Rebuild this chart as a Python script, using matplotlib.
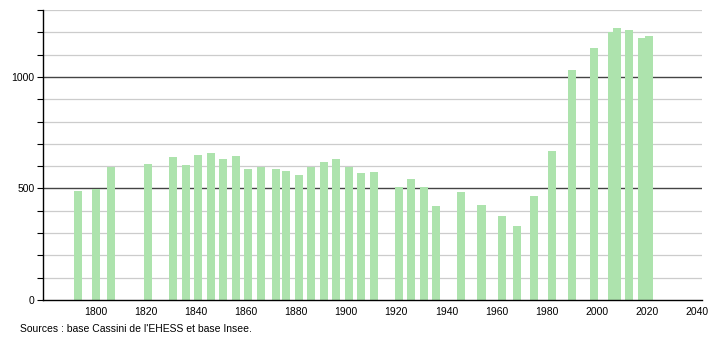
import matplotlib.pyplot as plt

years = [1793, 1800, 1806, 1821, 1831, 1836, 1841, 1846, 1851, 1856, 1861, 1866,
         1872, 1876, 1881, 1886, 1891, 1896, 1901, 1906, 1911, 1921, 1926, 1931,
         1936, 1946, 1954, 1962, 1968, 1975, 1982, 1990, 1999, 2006, 2008, 2013,
         2018, 2021]
population = [490, 498, 596, 608, 640, 604, 650, 658, 631, 644, 586, 596,
              586, 577, 559, 596, 620, 631, 596, 568, 572, 508, 541, 508,
              422, 482, 428, 378, 333, 464, 668, 1031, 1131, 1201, 1219, 1211,
              1174, 1183]
x_ticks = list(range(1800, 2041, 20))
y_major = [0, 500, 1000]

plt.rcParams['font.family'] = ['Liberation Sans', 'DejaVu Sans']

fig = plt.figure(figsize=(7.1, 3.4), dpi=100)
ax = fig.add_axes([43 / 710, 40 / 340, 659 / 710, 290 / 340])

for v in range(100, 1301, 100):
    dark = v % 500 == 0
    ax.axhline(v, color='#444444' if dark else '#cccccc', lw=1 if dark else 0.9, zorder=0)

ax.bar(years, population, width=3.2, color='#ade3ad', zorder=2)

ax.set_xlim(1779, 2042)
ax.set_ylim(0, 1300)
ax.set_xticks(x_ticks)
ax.set_xticklabels([str(t) for t in x_ticks])
ax.set_yticks(range(0, 1301, 100))
ax.set_yticklabels([str(v) if v in y_major else '' for v in range(0, 1301, 100)])
ax.tick_params(axis='x', length=0, labelsize=7.5, pad=5)
ax.tick_params(axis='y', length=4, width=0.8, labelsize=7.5, pad=2)

for s in ['top', 'right']:
    ax.spines[s].set_visible(False)
ax.spines['left'].set_linewidth(1)
ax.spines['bottom'].set_linewidth(1)

fig.text(20 / 710, 1 - 329 / 340, "Sources : base Cassini de l'EHESS et base Insee.",
         fontsize=7.5, va='center', ha='left')

fig.savefig('out.png', dpi=100)
